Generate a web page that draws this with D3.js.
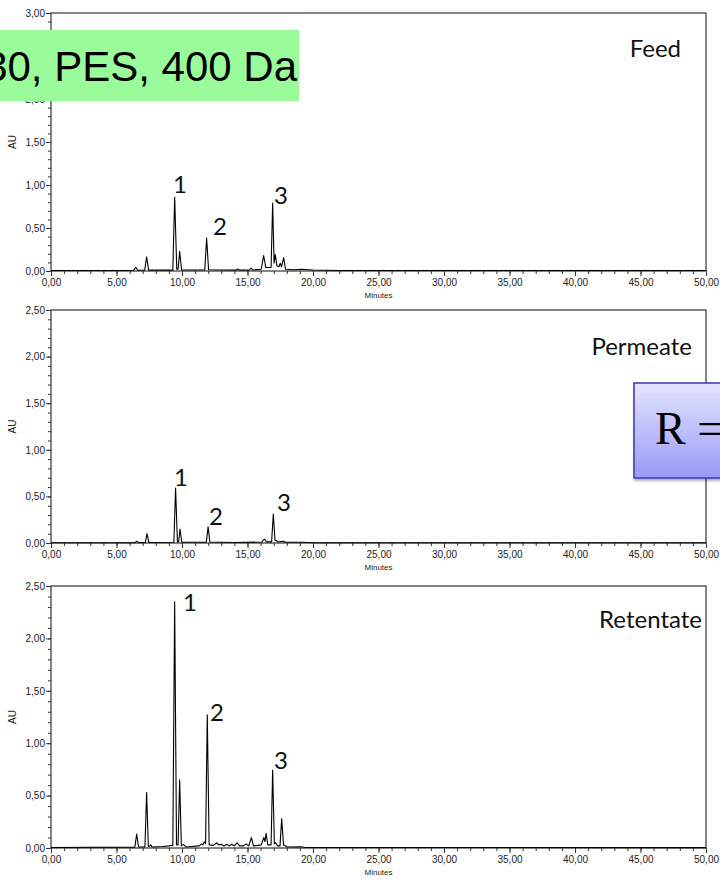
<!DOCTYPE html>
<html>
<head>
  <meta charset="utf-8">
  <script src="https://cdn.jsdelivr.net/npm/d3@7"></script>
  <style>
    body { margin: 0; background: #fff; }
    text { font-family: "Liberation Sans", Arial, sans-serif; }
    .tick text { font-size: 10px; fill: #222; }
    .tick line { stroke: #333; }
    path.domain { display: none; }
    text.au { font-size: 10px; fill: #222; }
    text.minutes { font-size: 8px; fill: #222; }
    text.peak { font-family: Lato, "Open Sans", sans-serif; font-size: 24px; fill: #111; }
    text.panelName { font-family: Lato, "Open Sans", sans-serif; font-size: 24px; fill: #111; }
    text.banner { font-size: 42px; fill: #000; }
    text.rbox { font-family: "Liberation Serif", "Times New Roman", serif; font-size: 46px; fill: #000; }
  </style>
</head>
<body>
  <svg width="720" height="883"></svg>
  <script>
    // panels, top to bottom
    const panelNames = ['Feed', 'Permeate', 'Retentate'];
    const yMaxes = [3, 2.5, 2.5];

    // chromatogram traces: [minutes, AU]
    const feedTrace = [
      [0, 0.005], [6.3, 0.005], [6.47, 0.043], [6.62, 0.008], [7.15, 0.008], [7.30, 0.166], [7.45, 0.01],
      [9.3, 0.01], [9.44, 0.857], [9.6, 0.02], [9.7, 0.02], [9.82, 0.229], [9.97, 0.012],
      [11.74, 0.012], [11.88, 0.384], [12.03, 0.015], [14.1, 0.01], [14.25, 0.022], [14.4, 0.01],
      [15.15, 0.012], [15.27, 0.035], [15.4, 0.012], [16.05, 0.02], [16.23, 0.18], [16.4, 0.04],
      [16.8, 0.04], [16.92, 0.79], [17.03, 0.09], [17.12, 0.19], [17.25, 0.06], [17.4, 0.05],
      [17.5, 0.09], [17.6, 0.05], [17.76, 0.155], [17.9, 0.02], [18.5, 0.015], [19.1, 0.02],
      [20, 0.012], [22, 0.006], [50, 0.005]
    ];
    const permeateTrace = [
      [0, 0.003], [6.4, 0.003], [6.55, 0.018], [6.7, 0.004], [7.2, 0.005], [7.33, 0.10], [7.47, 0.006],
      [9.38, 0.008], [9.51, 0.59], [9.65, 0.012], [9.74, 0.012], [9.85, 0.15], [9.98, 0.008],
      [11.86, 0.008], [11.99, 0.175], [12.13, 0.01], [14, 0.006], [16.1, 0.01], [16.22, 0.035],
      [16.32, 0.04], [16.42, 0.015], [16.55, 0.012], [16.84, 0.012], [16.97, 0.31], [17.1, 0.03],
      [17.2, 0.025], [17.35, 0.01], [17.55, 0.015], [17.75, 0.018], [17.9, 0.008], [19.3, 0.008],
      [20, 0.003], [50, 0.003]
    ];
    const retentateTrace = [
      [0, 0.005], [6.4, 0.008], [6.54, 0.134], [6.68, 0.01], [7.17, 0.01], [7.30, 0.53], [7.43, 0.015],
      [7.55, 0.02], [7.62, 0.03], [7.7, 0.01], [8.5, 0.015], [9.0, 0.02], [9.3, 0.025], [9.44, 2.35],
      [9.58, 0.03], [9.7, 0.03], [9.82, 0.65], [9.95, 0.02], [10.1, 0.035], [10.3, 0.01], [11.3, 0.02],
      [11.5, 0.04], [11.6, 0.03], [11.7, 0.06], [11.8, 0.04], [11.93, 1.27], [12.07, 0.03], [12.4, 0.025],
      [12.65, 0.05], [12.8, 0.03], [13.0, 0.035], [13.2, 0.02], [13.45, 0.035], [13.6, 0.02], [13.8, 0.035],
      [14.0, 0.02], [14.2, 0.05], [14.4, 0.02], [14.7, 0.02], [14.9, 0.04], [15.1, 0.02], [15.3, 0.1],
      [15.45, 0.02], [15.8, 0.025], [16.05, 0.03], [16.25, 0.1], [16.33, 0.06], [16.42, 0.14],
      [16.55, 0.03], [16.8, 0.03], [16.92, 0.744], [17.05, 0.04], [17.15, 0.05], [17.3, 0.02],
      [17.48, 0.02], [17.61, 0.28], [17.75, 0.03], [17.85, 0.025], [18.0, 0.01], [19.1, 0.012],
      [19.4, 0.005], [50, 0.004]
    ];
    const traces = [feedTrace, permeateTrace, retentateTrace];

    // peak numbers, anchored in data units [label, minutes, AU]
    const feedPeaks = [['1', 9.31, 0.907], ['2', 12.37, 0.419], ['3', 17.02, 0.779]];
    const permeatePeaks = [['1', 9.39, 0.611], ['2', 12.06, 0.193], ['3', 17.25, 0.343]];
    const retentatePeaks = [['1', 10.08, 2.26], ['2', 12.14, 1.21], ['3', 17.02, 0.754]];
    const peaks = [feedPeaks, permeatePeaks, retentatePeaks];

    const xMajor = d3.range(0, 51, 5);
    const xMinor = d3.range(0, 51, 1);

    // layout
    const left = 51, right = 706;
    const panelTop = [13, 310, 586];
    const panelBottom = [271, 543, 848];
    const nameRight = [681, 692, 702];
    const nameBase = [57, 355, 628];

    const svg = d3.select('svg');
    const locale = d3.formatLocale({ decimal: ',', thousands: '.', grouping: [3], currency: ['', ''] });
    const fmt = locale.format('.2f');

    const x = d3.scaleLinear().domain([0, 50]).range([left, right]);

    panelNames.forEach((name, i) => {
      const y = d3.scaleLinear().domain([0, yMaxes[i]]).range([panelBottom[i], panelTop[i]]);
      const g = svg.append('g');

      // minor ticks
      g.append('g')
        .attr('transform', `translate(0,${panelBottom[i]})`)
        .call(d3.axisBottom(x).tickValues(xMinor).tickSize(3).tickFormat(''));
      g.append('g')
        .attr('transform', `translate(${left},0)`)
        .call(d3.axisLeft(y).tickValues(d3.range(0, yMaxes[i] + 0.001, 0.1)).tickSize(3).tickFormat(''));

      // major ticks
      g.append('g')
        .attr('transform', `translate(0,${panelBottom[i]})`)
        .call(d3.axisBottom(x).tickValues(xMajor).tickSize(5).tickPadding(3).tickFormat(fmt));
      g.append('g')
        .attr('transform', `translate(${left},0)`)
        .call(d3.axisLeft(y).tickValues(d3.range(0, yMaxes[i] + 0.001, 0.5)).tickSize(5).tickPadding(1).tickFormat(fmt));

      // frame
      g.append('rect')
        .attr('x', left).attr('y', panelTop[i])
        .attr('width', right - left).attr('height', panelBottom[i] - panelTop[i])
        .attr('fill', 'none').attr('stroke', '#333').attr('stroke-width', 1.2);

      // axis titles
      g.append('text')
        .attr('class', 'au')
        .attr('transform', `translate(16,${(panelTop[i] + panelBottom[i]) / 2}) rotate(-90)`)
        .attr('text-anchor', 'middle')
        .text('AU');
      g.append('text')
        .attr('class', 'minutes')
        .attr('x', (left + right) / 2)
        .attr('y', panelBottom[i] + 27)
        .attr('text-anchor', 'middle')
        .text('Minutes');

      // trace
      g.append('path')
        .datum(traces[i])
        .attr('fill', 'none')
        .attr('stroke', '#000')
        .attr('stroke-width', 1.1)
        .attr('stroke-linejoin', 'round')
        .attr('d', d3.line().x(d => x(d[0])).y(d => y(d[1])));

      // peak numbers
      g.selectAll('text.peak')
        .data(peaks[i])
        .enter()
        .append('text')
        .attr('class', 'peak')
        .attr('x', d => x(d[1]))
        .attr('y', d => y(d[2]))
        .text(d => d[0]);

      // panel name
      g.append('text')
        .attr('class', 'panelName')
        .attr('x', nameRight[i])
        .attr('y', nameBase[i])
        .attr('text-anchor', 'end')
        .text(name);
    });

    // green banner over the top panel
    svg.append('rect')
      .attr('x', 0).attr('y', 30)
      .attr('width', 299).attr('height', 71)
      .attr('fill', '#99fb99');
    svg.append('text')
      .attr('class', 'banner')
      .attr('x', 297).attr('y', 81)
      .attr('text-anchor', 'end')
      .text('30, PES, 400 Da');

    // blue "R =" box at right
    const defs = svg.append('defs');
    const grad = defs.append('linearGradient')
      .attr('id', 'rgrad').attr('x1', 0).attr('y1', 0).attr('x2', 0).attr('y2', 1);
    grad.append('stop').attr('offset', '0%').attr('stop-color', '#e4e4ff');
    grad.append('stop').attr('offset', '100%').attr('stop-color', '#9999f5');
    defs.append('filter').attr('id', 'shadow')
      .append('feDropShadow')
      .attr('dx', 1).attr('dy', 2).attr('stdDeviation', 1.5).attr('flood-opacity', 0.35);

    svg.append('rect')
      .attr('x', 634).attr('y', 383)
      .attr('width', 120).attr('height', 95)
      .attr('fill', 'url(#rgrad)')
      .attr('stroke', '#3a3ab0').attr('stroke-width', 1.5)
      .attr('filter', 'url(#shadow)');
    svg.append('text')
      .attr('class', 'rbox')
      .attr('x', 655).attr('y', 444)
      .text('R =');
  </script>
</body>
</html>
